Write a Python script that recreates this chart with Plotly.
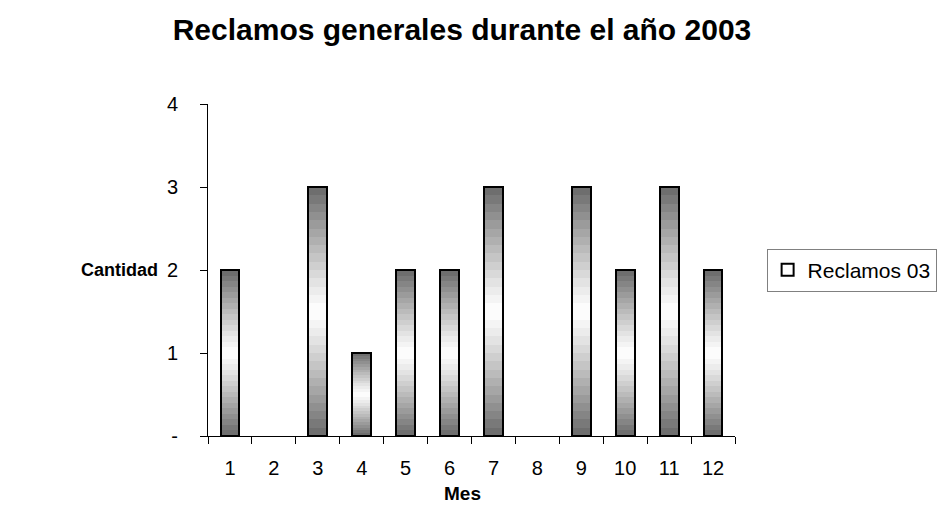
import plotly.graph_objects as go

months = ["1", "2", "3", "4", "5", "6", "7", "8", "9", "10", "11", "12"]
reclamos = [2, 0, 3, 1, 2, 2, 3, 0, 3, 2, 3, 2]
series_name = "Reclamos 03"
y_ticks = [0, 1, 2, 3, 4]
y_tick_labels = ["-", "1", "2", "3", "4"]

FONT = "Liberation Sans, Arial, sans-serif"
BAR_W = 0.43
N_SEG = 30

fig = go.Figure()

# vertical gradient: dark at the ends, white in the middle (stacked slices)
for i in range(N_SEG):
    t = (i + 0.5) / N_SEG
    d = abs(2 * t - 1) ** 1.15
    g = int(round(255 - (255 - 104) * d))
    fig.add_trace(go.Bar(
        x=months, y=[v / N_SEG for v in reclamos], width=BAR_W,
        marker=dict(color=f"rgb({g},{g},{g})", line=dict(width=0)),
        showlegend=False, hoverinfo="skip"))

# outline
fig.add_trace(go.Bar(
    x=months, y=reclamos, base=0, width=BAR_W, name=series_name,
    marker=dict(color="rgba(200,200,200,0.0)",
                line=dict(color="black", width=[2 if v > 0 else 0 for v in reclamos])),
    showlegend=True))

fig.update_layout(
    width=945, height=531,
    barmode="stack",
    paper_bgcolor="white", plot_bgcolor="white",
    margin=dict(l=200, r=218, t=96, b=103),
    font=dict(family=FONT, size=20, color="black"),
    title=dict(text="<b>Reclamos generales durante el año 2003</b>",
               x=0.4804, xanchor="center", y=0.9586, yanchor="middle",
               font=dict(family=FONT, size=30, color="black")),
    showlegend=True,
    legend=dict(x=1.06, xanchor="left", y=0.5, yanchor="middle",
                bordercolor="#808080", borderwidth=1,
                font=dict(family=FONT, size=21, color="black"),
                itemsizing="constant", itemwidth=30),
    xaxis=dict(type="category", showgrid=False, showline=True, linecolor="#000000",
               linewidth=1, ticks="outside", ticklen=7, tickcolor="#000000",
               tickson="boundaries", tickfont=dict(size=20), zeroline=False,
               ticklabelstandoff=14),
    yaxis=dict(range=[0, 4], tickvals=y_ticks, ticktext=y_tick_labels,
               showgrid=False, showline=True, linecolor="#000000", linewidth=1,
               ticks="outside", ticklen=7, tickcolor="#000000",
               ticklabelstandoff=18, zeroline=False, tickfont=dict(size=20)),
    annotations=[
        dict(text="<b>Cantidad</b>", xref="paper", yref="paper", x=-0.167, y=0.5,
             xanchor="center", yanchor="middle", showarrow=False,
             font=dict(family=FONT, size=18, color="black")),
        dict(text="<b>Mes</b>", xref="paper", yref="paper", x=0.482, y=-0.172,
             xanchor="center", yanchor="middle", showarrow=False,
             font=dict(family=FONT, size=19, color="black")),
    ],
)

fig.write_html("out.html")
